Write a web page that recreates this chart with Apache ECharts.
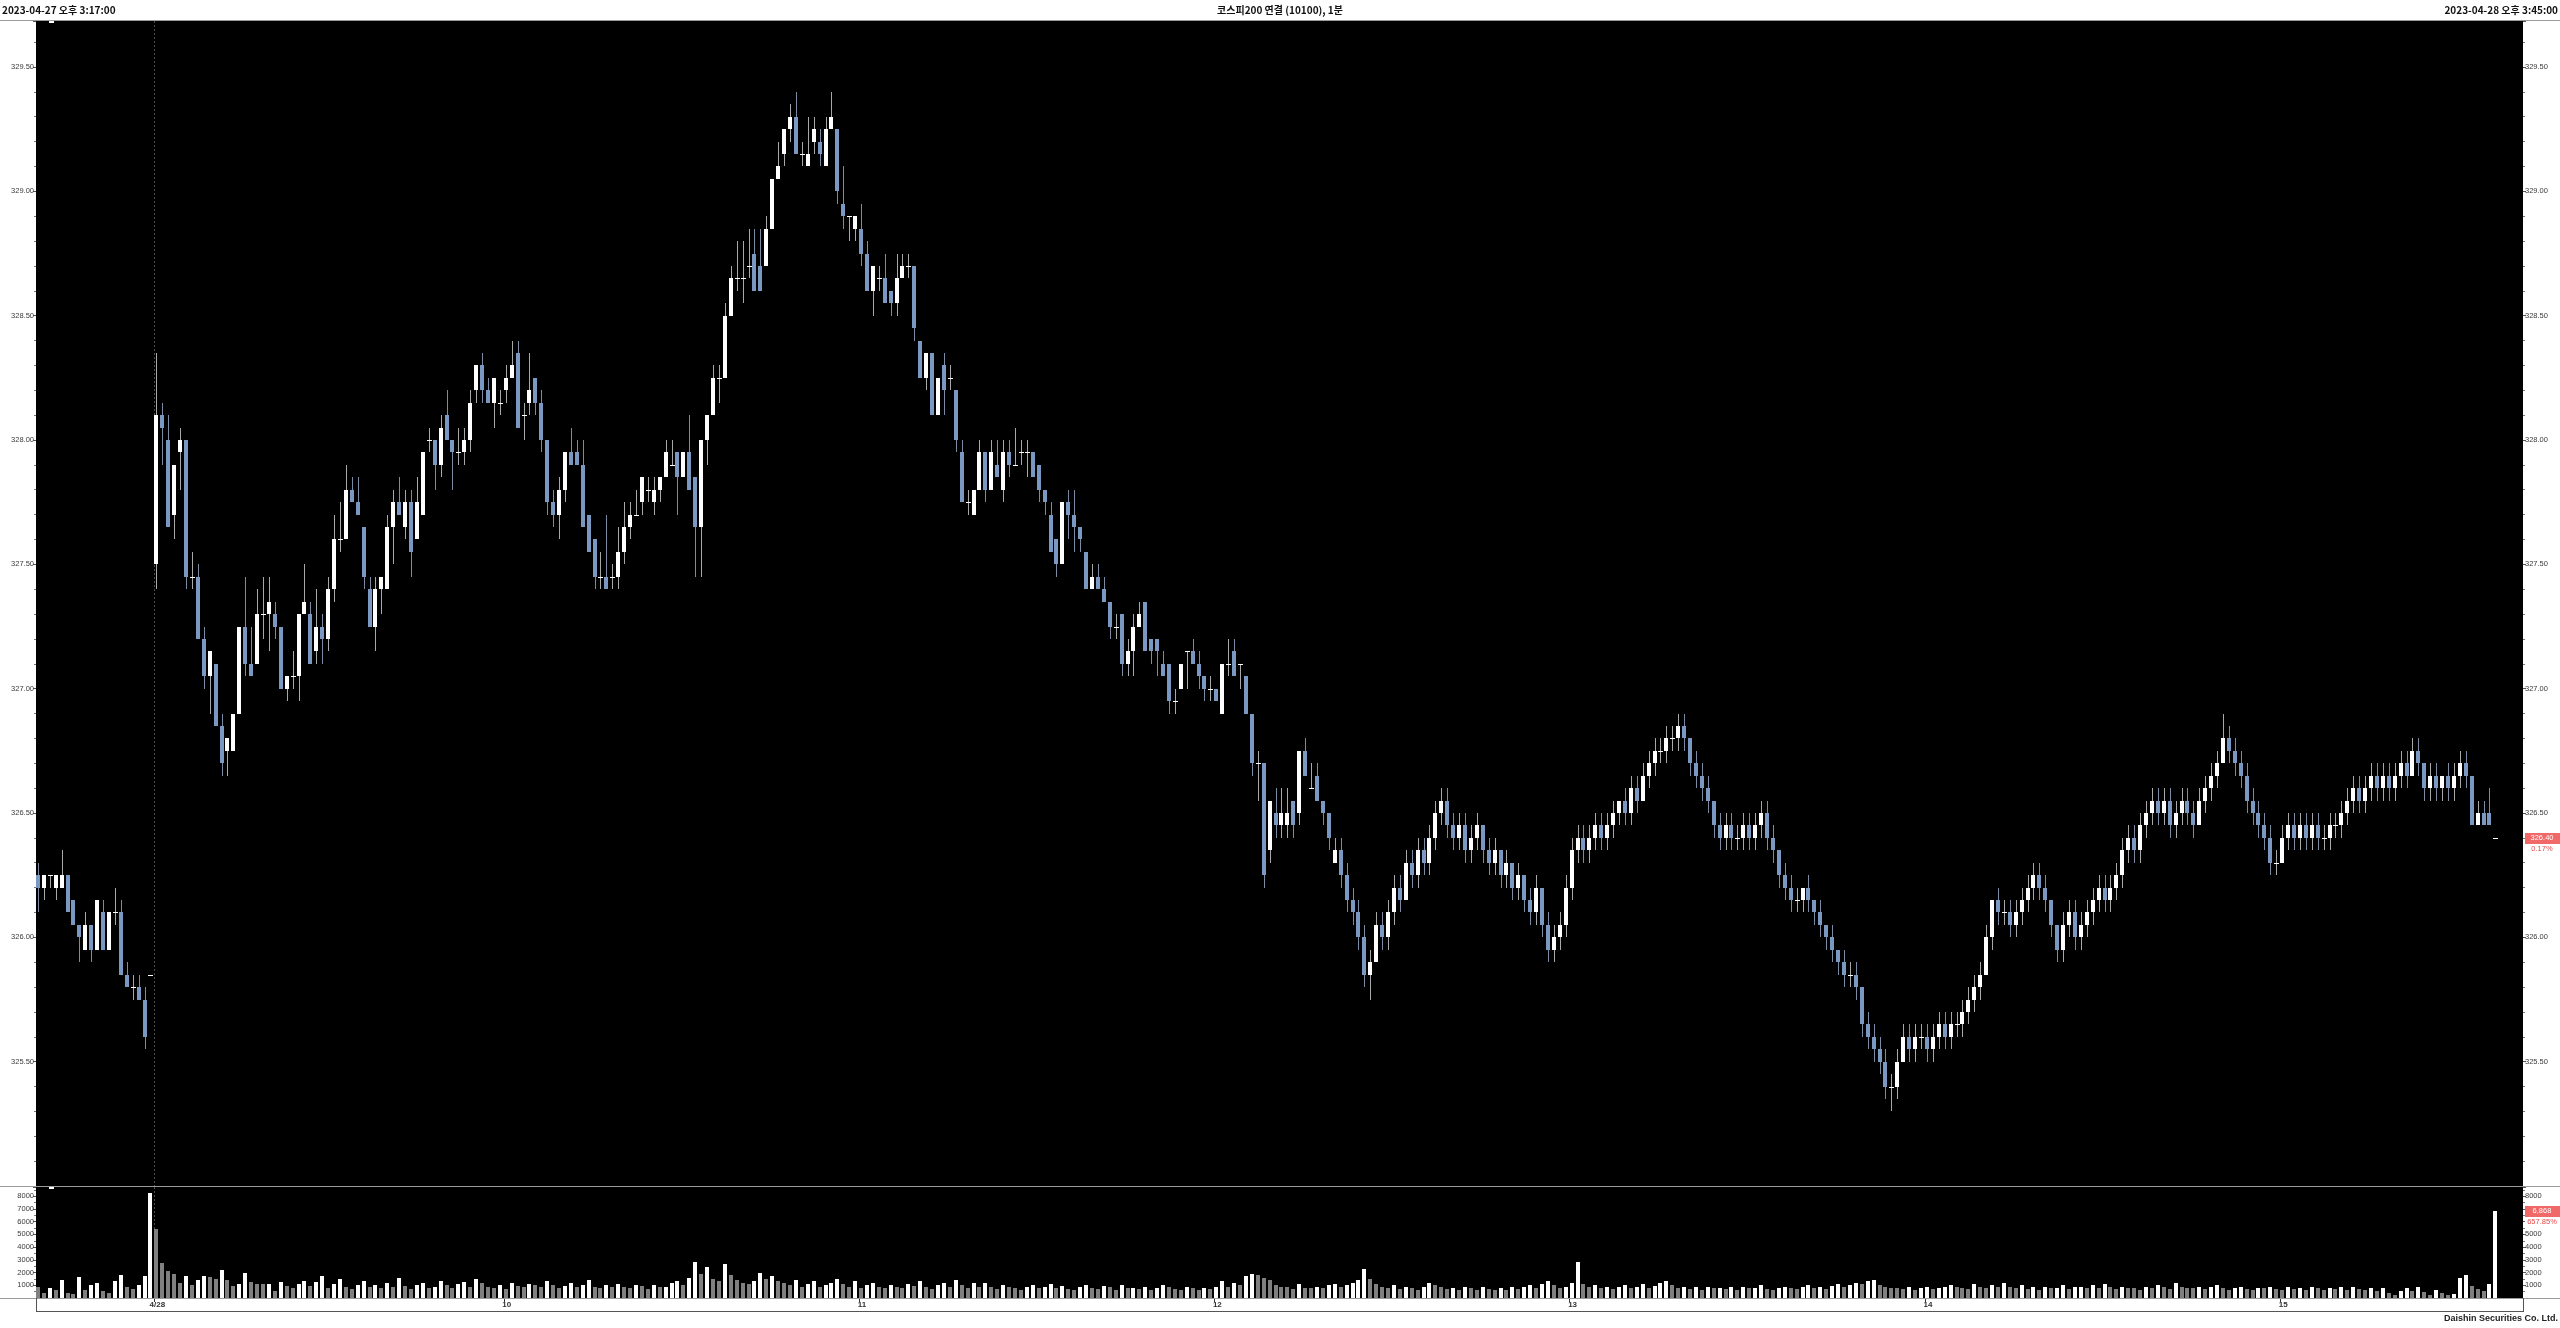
<!DOCTYPE html>
<html><head><meta charset="utf-8">
<script src="https://cdn.jsdelivr.net/npm/echarts/dist/echarts.min.js"></script>
<style>html,body{margin:0;padding:0;background:#fff;overflow:hidden}#c{width:2560px;height:1328px}</style>
</head><body><div id="c"></div>
<script>
// ---- header texts ----
const titleLeft = '2023-04-27 오후 3:17:00';
const titleCenter = '코스피200 연결 (10100), 1분';
const titleRight = '2023-04-28 오후 3:45:00';
const footer = 'Daishin Securities Co. Ltd.';
const volChangeText = '657.85%';

// ---- categories (1-minute bars) ----
function pad(n){return (n<10?'0':'')+n;}
const times = [];
for (let m = 17; m <= 35; m++) times.push('04-27 15:' + pad(m));
times.push('04-27 15:45');
for (let t = 9*60+1; t <= 15*60+35; t++) times.push('04-28 ' + pad(Math.floor(t/60)) + ':' + pad(t%60));
times.push('04-28 15:45');
for (let m = 46; m <= 49; m++) times.push('04-28 15:' + pad(m)); // empty slots at right edge

// ---- price candles: [open, high, low, close] ----
const candles = [
[326.25,326.30,326.10,326.20],[326.20,326.25,326.15,326.25],[326.25,326.25,326.20,326.25],[326.20,326.25,326.15,326.25],[326.20,326.35,326.20,326.25],
[326.25,326.25,326.10,326.10],[326.15,326.15,326.05,326.05],[326.05,326.05,325.90,326.00],[325.95,326.10,325.95,326.05],[326.05,326.05,325.90,325.95],
[325.95,326.15,325.95,326.15],[326.10,326.15,325.95,325.95],[325.95,326.10,325.95,326.10],[326.10,326.20,326.05,326.10],[326.10,326.15,325.85,325.85],
[325.85,325.90,325.80,325.80],[325.80,325.85,325.75,325.80],[325.80,325.85,325.75,325.75],[325.75,325.80,325.55,325.60],[325.85,325.85,325.85,325.85],
// 20 (4/28 open)
[327.50,328.35,327.40,328.10],[328.10,328.15,327.90,328.05],[328.00,328.10,327.65,327.65],[327.70,327.90,327.60,327.90],[327.95,328.05,327.80,328.00],
[328.00,328.00,327.40,327.45],[327.45,327.55,327.40,327.45],[327.45,327.50,327.20,327.20],[327.20,327.25,327.00,327.05],[327.05,327.15,326.90,327.15],
[327.10,327.10,326.85,326.85],[326.85,326.90,326.65,326.70],[326.75,326.80,326.65,326.80],[326.75,326.90,326.75,326.90],[326.90,327.25,326.90,327.25],
[327.25,327.45,327.05,327.10],[327.10,327.25,327.05,327.05],[327.10,327.40,327.10,327.30],[327.30,327.45,327.20,327.30],[327.30,327.45,327.15,327.35],
// 40
[327.30,327.35,327.20,327.25],[327.25,327.25,327.00,327.00],[327.00,327.05,326.95,327.05],[327.05,327.15,327.00,327.05],[327.05,327.30,326.95,327.30],
[327.30,327.50,327.30,327.35],[327.30,327.35,327.10,327.10],[327.15,327.40,327.10,327.25],[327.25,327.30,327.10,327.20],[327.20,327.45,327.15,327.40],
[327.40,327.70,327.35,327.60],[327.60,327.75,327.55,327.60],[327.60,327.90,327.60,327.80],[327.80,327.85,327.75,327.75],[327.75,327.85,327.70,327.70],
[327.65,327.65,327.40,327.45],[327.40,327.45,327.25,327.25],[327.25,327.45,327.15,327.40],[327.40,327.45,327.30,327.45],[327.40,327.70,327.40,327.65],
// 60
[327.65,327.80,327.50,327.75],[327.75,327.85,327.70,327.70],[327.65,327.80,327.60,327.75],[327.75,327.80,327.45,327.55],[327.60,327.85,327.60,327.75],
[327.70,327.95,327.70,327.95],[328.00,328.05,327.95,328.00],[328.00,328.00,327.80,327.90],[327.90,328.10,327.85,328.05],[328.10,328.20,328.00,328.00],
[328.00,328.00,327.80,327.95],[327.95,328.05,327.90,327.95],[327.95,328.05,327.90,328.00],[328.00,328.20,327.95,328.15],[328.20,328.30,328.15,328.30],
[328.30,328.35,328.15,328.20],[328.20,328.25,328.15,328.15],[328.15,328.25,328.05,328.25],[328.15,328.20,328.10,328.15],[328.20,328.30,328.15,328.25],
// 80
[328.25,328.40,328.25,328.30],[328.35,328.40,328.05,328.05],[328.10,328.15,328.00,328.10],[328.15,328.35,328.10,328.20],[328.25,328.25,328.10,328.15],
[328.15,328.20,327.95,328.00],[328.00,328.00,327.70,327.75],[327.75,327.80,327.65,327.70],[327.70,327.85,327.60,327.80],[327.80,327.95,327.75,327.95],
[327.95,328.05,327.90,327.90],[327.95,328.00,327.90,327.90],[327.90,328.00,327.65,327.65],[327.70,327.70,327.55,327.55],[327.60,327.60,327.40,327.45],
[327.45,327.55,327.40,327.45],[327.45,327.70,327.40,327.40],[327.45,327.50,327.40,327.45],[327.45,327.65,327.40,327.55],[327.55,327.75,327.50,327.65],
// 100
[327.65,327.75,327.60,327.70],[327.70,327.80,327.70,327.70],[327.75,327.85,327.70,327.85],[327.80,327.85,327.75,327.80],[327.75,327.85,327.70,327.80],
[327.80,327.85,327.75,327.85],[327.85,328.00,327.85,327.95],[327.90,328.00,327.90,327.90],[327.95,327.95,327.70,327.85],[327.85,327.95,327.85,327.95],
[327.95,328.10,327.80,327.80],[327.85,327.85,327.45,327.65],[327.65,328.00,327.45,328.00],[328.00,328.10,327.90,328.10],[328.10,328.30,328.10,328.25],
[328.25,328.30,328.15,328.25],[328.25,328.55,328.25,328.50],[328.50,328.70,328.50,328.65],[328.65,328.80,328.60,328.65],[328.65,328.80,328.55,328.65],
// 120
[328.70,328.85,328.65,328.70],[328.75,328.85,328.60,328.60],[328.70,328.85,328.60,328.60],[328.70,328.90,328.70,328.85],[328.85,329.05,328.85,329.05],
[329.05,329.20,329.05,329.10],[329.15,329.25,329.10,329.25],[329.25,329.35,329.20,329.30],[329.30,329.40,329.15,329.15],[329.15,329.20,329.10,329.15],
[329.10,329.30,329.10,329.15],[329.20,329.30,329.15,329.25],[329.20,329.25,329.10,329.15],[329.10,329.30,329.10,329.25],[329.25,329.40,329.25,329.30],
[329.25,329.25,328.95,329.00],[328.95,329.10,328.85,328.90],[328.90,328.90,328.80,328.90],[328.85,328.90,328.80,328.90],[328.85,328.95,328.70,328.75],
// 140
[328.75,328.80,328.60,328.60],[328.60,328.70,328.50,328.70],[328.65,328.70,328.60,328.65],[328.65,328.75,328.55,328.55],[328.60,328.60,328.50,328.55],
[328.55,328.75,328.50,328.65],[328.65,328.75,328.65,328.70],[328.70,328.75,328.65,328.70],[328.70,328.70,328.40,328.45],[328.40,328.40,328.25,328.25],
[328.25,328.35,328.20,328.35],[328.35,328.35,328.10,328.10],[328.10,328.25,328.10,328.25],[328.30,328.35,328.10,328.20],[328.25,328.30,328.20,328.25],
[328.20,328.20,327.95,328.00],[327.95,328.00,327.75,327.75],[327.75,327.80,327.70,327.75],[327.70,327.80,327.70,327.80],[327.80,328.00,327.80,327.95],
// 160
[327.95,327.95,327.75,327.80],[327.80,328.00,327.80,327.95],[327.90,328.00,327.85,327.85],[327.80,328.00,327.75,327.95],[327.95,328.00,327.85,327.90],
[327.90,328.05,327.90,327.90],[327.95,328.00,327.90,327.95],[327.95,328.00,327.85,327.95],[327.95,327.95,327.85,327.85],[327.90,327.90,327.75,327.80],
[327.80,327.80,327.70,327.75],[327.70,327.75,327.55,327.55],[327.60,327.60,327.45,327.50],[327.50,327.75,327.50,327.75],[327.75,327.80,327.60,327.70],
[327.70,327.80,327.55,327.65],[327.65,327.65,327.55,327.60],[327.55,327.55,327.40,327.40],[327.40,327.50,327.40,327.45],[327.45,327.50,327.40,327.40],
// 180
[327.40,327.45,327.35,327.35],[327.35,327.35,327.20,327.25],[327.25,327.30,327.20,327.25],[327.30,327.30,327.05,327.10],[327.10,327.20,327.05,327.15],
[327.15,327.30,327.05,327.25],[327.25,327.35,327.25,327.30],[327.35,327.35,327.15,327.15],[327.20,327.20,327.10,327.15],[327.20,327.20,327.05,327.15],
[327.10,327.15,327.05,327.05],[327.10,327.10,326.90,326.95],[326.95,327.00,326.90,326.95],[327.00,327.10,327.00,327.10],[327.15,327.15,327.00,327.15],
[327.15,327.20,327.10,327.10],[327.10,327.15,327.00,327.05],[327.05,327.05,326.95,327.00],[327.00,327.05,326.95,327.00],[327.00,327.00,326.95,326.95],
// 200
[326.90,327.10,326.90,327.10],[327.10,327.20,327.05,327.10],[327.15,327.20,327.05,327.05],[327.10,327.10,327.00,327.10],[327.05,327.05,326.90,326.90],
[326.90,326.90,326.65,326.70],[326.70,326.75,326.55,326.70],[326.70,326.70,326.20,326.25],[326.35,326.55,326.30,326.55],[326.50,326.60,326.40,326.45],
[326.45,326.60,326.40,326.50],[326.45,326.60,326.40,326.50],[326.55,326.55,326.40,326.45],[326.50,326.75,326.45,326.75],[326.75,326.80,326.65,326.65],
[326.60,326.70,326.60,326.60],[326.65,326.70,326.55,326.55],[326.55,326.55,326.45,326.50],[326.50,326.50,326.35,326.40],[326.30,326.40,326.30,326.35],
// 220
[326.35,326.40,326.20,326.25],[326.25,326.30,326.10,326.15],[326.15,326.20,326.05,326.10],[326.10,326.15,325.95,326.00],[326.00,326.05,325.80,325.85],
[325.85,325.95,325.75,325.90],[325.90,326.10,325.90,326.05],[326.05,326.10,325.95,326.00],[326.00,326.15,325.95,326.10],[326.10,326.25,326.05,326.20],
[326.20,326.25,326.10,326.15],[326.15,326.35,326.15,326.30],[326.30,326.35,326.20,326.25],[326.25,326.40,326.20,326.35],[326.35,326.40,326.25,326.30],
[326.30,326.45,326.25,326.40],[326.40,326.55,326.35,326.50],[326.50,326.60,326.45,326.55],[326.55,326.60,326.40,326.45],[326.45,326.50,326.35,326.40],
// 240
[326.40,326.50,326.35,326.45],[326.45,326.50,326.30,326.35],[326.35,326.45,326.30,326.40],[326.40,326.50,326.35,326.45],[326.45,326.45,326.30,326.35],
[326.35,326.40,326.25,326.30],[326.30,326.40,326.25,326.35],[326.35,326.35,326.20,326.25],[326.25,326.35,326.20,326.30],[326.30,326.30,326.15,326.20],
[326.20,326.30,326.15,326.25],[326.25,326.25,326.10,326.15],[326.15,326.20,326.05,326.10],[326.10,326.25,326.05,326.20],[326.20,326.20,326.00,326.05],
[326.05,326.10,325.90,325.95],[325.95,326.05,325.90,326.00],[326.00,326.10,325.95,326.05],[326.05,326.25,326.00,326.20],[326.20,326.40,326.15,326.35],
// 260
[326.35,326.45,326.30,326.40],[326.40,326.45,326.30,326.35],[326.35,326.45,326.30,326.40],[326.40,326.50,326.35,326.45],[326.45,326.50,326.35,326.40],
[326.40,326.50,326.35,326.45],[326.45,326.55,326.40,326.50],[326.50,326.55,326.45,326.55],[326.55,326.60,326.45,326.50],[326.50,326.65,326.45,326.60],
[326.60,326.65,326.50,326.55],[326.55,326.70,326.55,326.65],[326.65,326.75,326.60,326.70],[326.70,326.80,326.65,326.75],[326.75,326.80,326.70,326.75],
[326.75,326.85,326.70,326.80],[326.80,326.85,326.75,326.80],[326.80,326.90,326.75,326.85],[326.85,326.90,326.75,326.80],[326.80,326.80,326.65,326.70],
// 280
[326.70,326.75,326.60,326.65],[326.65,326.70,326.55,326.60],[326.60,326.65,326.50,326.55],[326.55,326.55,326.40,326.45],[326.45,326.50,326.35,326.40],
[326.40,326.50,326.35,326.45],[326.45,326.50,326.35,326.40],[326.40,326.45,326.35,326.40],[326.40,326.50,326.35,326.45],[326.45,326.50,326.35,326.40],
[326.40,326.50,326.35,326.45],[326.45,326.55,326.40,326.50],[326.50,326.55,326.35,326.40],[326.40,326.45,326.30,326.35],[326.35,326.35,326.20,326.25],
[326.25,326.30,326.15,326.20],[326.20,326.25,326.10,326.15],[326.15,326.20,326.10,326.15],[326.15,326.20,326.10,326.20],[326.20,326.25,326.10,326.15],
// 300
[326.15,326.15,326.05,326.10],[326.10,326.15,326.00,326.05],[326.05,326.05,325.95,326.00],[326.00,326.05,325.90,325.95],[325.95,325.95,325.85,325.90],
[325.90,325.95,325.80,325.85],[325.85,325.90,325.80,325.85],[325.85,325.90,325.75,325.80],[325.80,325.80,325.60,325.65],[325.65,325.70,325.55,325.60],
[325.60,325.65,325.50,325.55],[325.55,325.60,325.45,325.50],[325.50,325.55,325.35,325.40],[325.40,325.45,325.30,325.40],[325.40,325.55,325.35,325.50],
[325.50,325.65,325.50,325.60],[325.60,325.65,325.50,325.55],[325.55,325.65,325.50,325.60],[325.60,325.65,325.55,325.60],[325.60,325.65,325.50,325.55],
// 320
[325.55,325.65,325.50,325.60],[325.60,325.70,325.55,325.65],[325.65,325.70,325.55,325.60],[325.60,325.70,325.55,325.65],[325.65,325.70,325.60,325.65],
[325.65,325.75,325.60,325.70],[325.70,325.80,325.65,325.75],[325.75,325.85,325.70,325.80],[325.80,325.90,325.75,325.85],[325.85,326.05,325.85,326.00],
[326.00,326.15,325.95,326.15],[326.15,326.20,326.05,326.10],[326.10,326.15,326.05,326.10],[326.10,326.15,326.00,326.05],[326.05,326.15,326.00,326.10],
[326.10,326.20,326.05,326.15],[326.15,326.25,326.10,326.20],[326.20,326.30,326.15,326.25],[326.25,326.30,326.15,326.20],[326.20,326.25,326.10,326.15],
// 340
[326.15,326.15,326.00,326.05],[326.05,326.05,325.90,325.95],[325.95,326.10,325.90,326.05],[326.05,326.15,326.00,326.10],[326.10,326.15,325.95,326.00],
[326.00,326.10,325.95,326.05],[326.05,326.15,326.00,326.10],[326.10,326.20,326.05,326.15],[326.15,326.25,326.10,326.20],[326.20,326.25,326.10,326.15],
[326.15,326.25,326.10,326.20],[326.20,326.30,326.15,326.25],[326.25,326.40,326.20,326.35],[326.35,326.45,326.30,326.40],[326.40,326.45,326.30,326.35],
[326.35,326.50,326.30,326.45],[326.45,326.55,326.40,326.50],[326.50,326.60,326.45,326.55],[326.55,326.60,326.45,326.50],[326.50,326.60,326.45,326.55],
// 360
[326.55,326.60,326.40,326.45],[326.45,326.55,326.40,326.50],[326.50,326.60,326.45,326.55],[326.55,326.60,326.45,326.50],[326.50,326.55,326.40,326.45],
[326.45,326.60,326.45,326.55],[326.55,326.65,326.50,326.60],[326.60,326.70,326.55,326.65],[326.65,326.75,326.60,326.70],[326.70,326.90,326.70,326.80],
[326.80,326.85,326.70,326.75],[326.75,326.80,326.65,326.70],[326.70,326.75,326.60,326.65],[326.65,326.70,326.50,326.55],[326.55,326.60,326.45,326.50],
[326.50,326.55,326.40,326.45],[326.45,326.50,326.35,326.40],[326.40,326.45,326.25,326.30],[326.30,326.35,326.25,326.30],[326.30,326.45,326.30,326.40],
// 380
[326.40,326.50,326.35,326.45],[326.45,326.50,326.35,326.40],[326.40,326.50,326.35,326.45],[326.45,326.50,326.35,326.40],[326.40,326.50,326.35,326.45],
[326.45,326.50,326.35,326.40],[326.40,326.45,326.35,326.40],[326.40,326.50,326.35,326.45],[326.45,326.50,326.40,326.45],[326.45,326.55,326.40,326.50],
[326.50,326.60,326.45,326.55],[326.55,326.65,326.50,326.60],[326.60,326.65,326.50,326.55],[326.55,326.65,326.50,326.60],[326.60,326.70,326.55,326.65],
[326.65,326.70,326.55,326.60],[326.60,326.70,326.55,326.65],[326.65,326.70,326.55,326.60],[326.60,326.70,326.55,326.65],[326.65,326.75,326.60,326.70],
// 400
[326.70,326.75,326.60,326.65],[326.65,326.80,326.65,326.75],[326.75,326.80,326.65,326.70],[326.70,326.70,326.55,326.60],[326.60,326.70,326.55,326.65],
[326.65,326.70,326.55,326.60],[326.60,326.65,326.55,326.65],[326.65,326.70,326.55,326.60],[326.60,326.70,326.55,326.65],[326.65,326.75,326.60,326.70],
[326.70,326.75,326.60,326.65],[326.65,326.65,326.45,326.45],[326.45,326.55,326.45,326.50],[326.50,326.55,326.45,326.45],[326.50,326.60,326.45,326.45],
[326.40,326.40,326.40,326.40]
];

// ---- volumes (contracts per bar) ----
const volumes = [
890,420,810,600,1380,420,290,1650,600,1020,
1150,520,420,1330,1775,890,680,1020,1700,8250,
5460,2720,2090,1850,1175,1750,990,1380,1750,1620,
1490,2220,1440,910,1120,1960,1230,1120,1070,1120,
550,1280,970,760,1070,1350,950,1250,1700,800,
1100,1500,900,700,1050,1300,850,1050,800,1150,
900,1600,950,700,1050,1200,800,900,1350,1000,
750,1100,1250,850,1500,1150,900,800,1050,700,
1200,950,850,1100,1000,900,1300,1050,800,950,
1200,850,1000,1400,900,750,1000,850,1100,900,
800,1050,950,700,1000,850,900,1150,1300,1000,
1600,2800,1900,2400,1500,1300,2700,1800,1400,1200,
1100,1300,2000,1500,1700,1300,1200,1000,1400,900,
1100,1300,850,1000,1200,1500,1100,900,1300,800,
1000,1150,900,750,1050,900,800,1100,950,1300,
850,700,1000,1200,900,1400,1000,800,1150,900,
1200,850,700,1000,900,800,650,900,1000,750,
850,1100,800,950,700,650,900,1050,800,700,
950,850,600,1000,750,800,700,900,650,750,
1000,850,700,600,900,750,650,800,700,850,
1300,900,1200,1000,1700,1900,1800,1600,1400,1000,
900,850,700,1100,800,750,900,800,1000,1100,
900,1000,1200,1400,2300,1500,1100,900,800,1000,
700,900,800,650,850,1200,1000,900,700,800,
650,900,750,600,850,700,600,800,650,900,
700,850,1000,800,1100,1300,1000,800,900,1200,
2800,1100,900,1000,800,900,700,850,1000,750,
900,1100,800,950,1200,1300,1000,800,900,700,
850,650,900,750,800,700,850,600,900,750,
800,1000,700,650,800,900,750,700,850,1000,
800,900,700,950,1100,900,1000,1200,1100,1300,
1400,1000,900,800,750,700,850,650,800,900,
700,750,850,1000,900,800,700,1100,900,750,
1000,850,1200,900,800,1000,700,850,650,900,
750,800,1000,700,850,900,800,1000,750,1100,
850,700,900,800,750,650,900,800,1000,850,
700,1200,900,800,750,900,700,850,1000,750,
600,800,900,700,650,800,750,900,700,600,
850,700,800,650,900,750,600,800,700,850,
650,900,700,600,800,550,810,420,210,550,
810,520,860,470,210,600,365,210,290,1590,
1775,940,680,520,1070,6868
];

const dayStarts = [20];

// ---- colours ----
const upBody = '#ffffff', downBody = '#7b98c2';
const upWick = '#a8a8a8', downWick = '#7a8ba3';
const volUp = '#ffffff', volDown = '#808080';
const frameGray = '#9a9a9a', axisText = '#3a3a3a';

const labelText = times.map((t, i) => {
  const day = t.slice(0, 5), hm = t.slice(6);
  if (i > 0 && day !== times[i-1].slice(0, 5)) return parseInt(day.slice(0,2)) + '/' + parseInt(day.slice(3));
  if (hm.slice(3) === '00') return String(parseInt(hm.slice(0,2)));
  return null;
});

const candleData = candles.map((d, i) => [i, d[0], d[3], d[2], d[1]]);
const volData = volumes.map((v, i) => [i, v, (i > 0 && v > volumes[i-1]) ? 1 : 0]);

function sepLine(params, api, i, xc) {
  if (dayStarts.indexOf(i) < 0) return null;
  const cs = params.coordSys; const step = api.size([1, 0])[0];
  const xs = Math.round(xc - step / 2) + 0.5;
  return {type: 'line', shape: {x1: xs, y1: cs.y, x2: xs, y2: cs.y + cs.height}, style: {stroke: '#4a4a4a', lineWidth: 1, lineDash: [2, 2]}, silent: true};
}

function renderCandle(params, api) {
  const i = api.value(0), o = api.value(1), c = api.value(2), l = api.value(3), h = api.value(4);
  const pO = api.coord([i, o]), pC = api.coord([i, c]), pL = api.coord([i, l]), pH = api.coord([i, h]);
  const xc = Math.round(pO[0]) - 1;
  const up = c >= o;
  const ch = [];
  const s = sepLine(params, api, i, xc + 1); if (s) ch.push(s);
  const yh = Math.round(pH[1]), yl = Math.round(pL[1]);
  ch.push({type: 'rect', shape: {x: xc, y: yh, width: 1, height: Math.max(1, yl - yh)}, style: {fill: up ? upWick : downWick}});
  if (o === c) {
    ch.push({type: 'rect', shape: {x: xc - 2, y: Math.round(pO[1]), width: 5, height: 1}, style: {fill: '#ffffff'}});
  } else {
    const t = Math.round(Math.min(pO[1], pC[1])), b = Math.round(Math.max(pO[1], pC[1]));
    ch.push({type: 'rect', shape: {x: xc - 2, y: t, width: 4, height: Math.max(1, b - t)}, style: {fill: up ? upBody : downBody}});
  }
  return {type: 'group', children: ch};
}

function renderVol(params, api) {
  const i = api.value(0), v = api.value(1), up = api.value(2);
  const p = api.coord([i, v]), p0 = api.coord([i, 0]);
  const xc = Math.round(p[0]) - 1;
  const ch = [];
  const s = sepLine(params, api, i, xc + 1); if (s) ch.push(s);
  const t = Math.round(p[1]), b = Math.round(p0[1]);
  ch.push({type: 'rect', shape: {x: xc - 2, y: t, width: 4, height: Math.max(1, b - t)}, style: {fill: up ? volUp : volDown}});
  return {type: 'group', children: ch};
}

function priceFmt(v) { return (v > 325.01 && Math.abs(v * 2 - Math.round(v * 2)) < 1e-6) ? v.toFixed(2) : ''; }
function volFmt(v) { return (v > 0 && Math.abs(v / 1000 - Math.round(v / 1000)) < 1e-6) ? String(v) : ''; }

const baseFont = {fontFamily: 'Liberation Sans, Arial, sans-serif', fontSize: 7.5, color: axisText};

function yAx(grid, pos, min, max, interval, fmt, minorSplit) {
  return {
    type: 'value', gridIndex: grid, position: pos, min: min, max: max, interval: interval,
    axisLine: {show: false}, splitLine: {show: false},
    axisTick: {show: true, length: 3, lineStyle: {color: '#555'}},
    minorTick: {show: true, splitNumber: minorSplit, length: 2, lineStyle: {color: '#777'}},
    axisLabel: Object.assign({margin: 2, formatter: fmt}, baseFont)
  };
}

const chart = echarts.init(document.getElementById('c'));
const option = {
  animation: false,
  backgroundColor: '#ffffff',
  grid: [
    {left: 36, right: 37, top: 21, height: 1165, show: true, backgroundColor: '#000000', borderWidth: 0},
    {left: 36, right: 37, top: 1187, height: 111, show: true, backgroundColor: '#000000', borderWidth: 0}
  ],
  xAxis: [
    {type: 'category', gridIndex: 0, data: times, boundaryGap: true, axisLine: {show: false}, axisTick: {show: false}, axisLabel: {show: false}},
    {type: 'category', gridIndex: 1, data: times, boundaryGap: true, axisLine: {show: false},
     axisTick: {show: true, length: 4, interval: (i) => labelText[i] != null, lineStyle: {color: '#333'}},
     axisLabel: {show: true, interval: (i) => labelText[i] != null, formatter: (v, i) => labelText[i] || '',
                 fontFamily: 'Liberation Sans, Arial, sans-serif', fontSize: 8, fontWeight: 'bold', color: '#333', margin: 3}}
  ],
  yAxis: [
    yAx(0, 'left', 325.0, 329.685, 0.5, priceFmt, 5),
    yAx(0, 'right', 325.0, 329.685, 0.5, priceFmt, 5),
    yAx(1, 'left', 0, 8730, 1000, volFmt, 2),
    yAx(1, 'right', 0, 8730, 1000, volFmt, 2)
  ],
  series: [
    {type: 'custom', name: 'price', xAxisIndex: 0, yAxisIndex: 0, renderItem: renderCandle, data: candleData,
     encode: {x: 0, y: [1, 2, 3, 4]}, clip: true, silent: true},
    {type: 'custom', name: 'volume', xAxisIndex: 1, yAxisIndex: 2, renderItem: renderVol, data: volData,
     encode: {x: 0, y: 1}, clip: true, silent: true}
  ]
};
chart.setOption(option);

// ---- overlays: frame lines, titles, last value tags ----
const last = candles[candles.length - 1][3];
const prevClose = candles[dayStarts[0] - 1][3];
const pct = ((last - prevClose) / prevClose * 100).toFixed(2) + '%';
const lastVol = volumes[volumes.length - 1];
const yLast = chart.convertToPixel({yAxisIndex: 0}, last);
const yVol = chart.convertToPixel({yAxisIndex: 2}, lastVol);
const W = 2560;
const tf = {fontFamily: '"Noto Sans CJK KR", "Noto Sans", sans-serif', fontSize: 10, fontWeight: 'bold', fill: '#111'};
const smallFont = {fontFamily: 'Liberation Sans, Arial, sans-serif', fontSize: 7.5};
function hline(y, x1, x2, c) { return {type: 'line', shape: {x1: x1, y1: y + 0.5, x2: x2, y2: y + 0.5}, style: {stroke: c, lineWidth: 1}, z: 100, silent: true}; }
function vline(x, y1, y2, c) { return {type: 'line', shape: {x1: x + 0.5, y1: y1, x2: x + 0.5, y2: y2}, style: {stroke: c, lineWidth: 1}, z: 100, silent: true}; }
function tag(y, valueText, subText) {
  const yy = Math.round(y);
  return [
    {type: 'rect', shape: {x: 2525, y: yy - 5, width: 35, height: 11}, style: {fill: '#f06868'}, z: 102},
    {type: 'text', x: 2542, y: yy - 4, style: Object.assign({text: valueText, textAlign: 'center', fill: '#ffffff'}, smallFont), z: 103},
    {type: 'rect', shape: {x: 2525, y: yy + 6, width: 35, height: 10}, style: {fill: '#ffffff'}, z: 102},
    {type: 'text', x: 2542, y: yy + 7, style: Object.assign({text: subText, textAlign: 'center', fill: '#e84848'}, smallFont), z: 103}
  ];
}
chart.setOption({graphic: [
  hline(20, 0, W, frameGray),
  hline(1186, 0, W, frameGray),
  hline(1298, 0, W, frameGray),
  hline(1311, 36, 2524, '#555'),
  vline(36, 1298, 1312, '#555'),
  vline(2523, 1298, 1312, '#555'),
  {type: 'rect', shape: {x: 49, y: 21, width: 5, height: 2}, style: {fill: '#ffffff'}, z: 100},
  {type: 'rect', shape: {x: 49, y: 1187, width: 5, height: 2}, style: {fill: '#ffffff'}, z: 100},
  {type: 'text', x: 2, y: 5, style: Object.assign({text: titleLeft, textAlign: 'left'}, tf), z: 100},
  {type: 'text', x: 1280, y: 5, style: Object.assign({text: titleCenter, textAlign: 'center'}, tf), z: 100},
  {type: 'text', x: 2558, y: 5, style: Object.assign({text: titleRight, textAlign: 'right'}, tf), z: 100},
  {type: 'text', x: 2558, y: 1314, style: {text: footer, textAlign: 'right', fontFamily: 'Liberation Sans, Arial, sans-serif', fontSize: 9, fontWeight: 'bold', fill: '#222'}, z: 100}
].concat(tag(yLast, last.toFixed(2), pct), tag(yVol, lastVol.toLocaleString('en-US'), volChangeText))});
</script>
</body></html>
